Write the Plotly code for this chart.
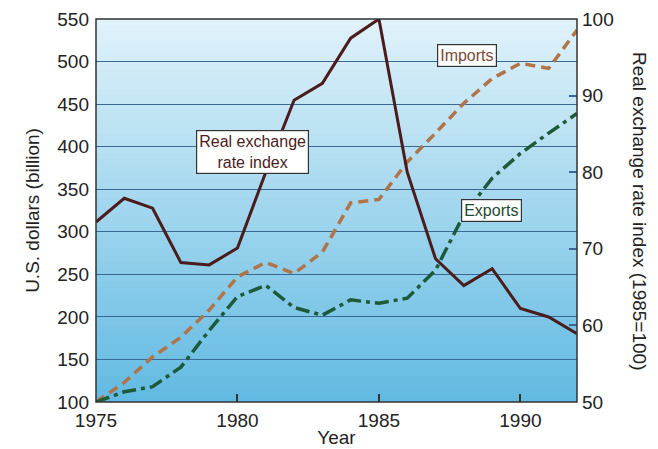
import plotly.graph_objects as go

years = list(range(1975, 1993))
exchange_rate_index = [73.5, 76.6, 75.3, 68.2, 67.9, 70.1, 80.0, 89.4, 91.6, 97.5,
                       100.0, 80.0, 68.7, 65.2, 67.4, 62.2, 61.1, 58.9]
imports = [100, 123, 153, 176, 208, 247, 264, 251, 276, 334,
           338, 382, 416, 451, 480, 498, 492, 537]
exports = [100, 112, 118, 141, 184, 224, 237, 211, 202, 220,
           216, 222, 255, 320, 363, 392, 416, 439]

left_ticks = [100, 150, 200, 250, 300, 350, 400, 450, 500, 550]
right_ticks = [50, 60, 70, 80, 90, 100]
x_ticks = [1975, 1980, 1985, 1990]

FONT = "Liberation Sans, Arial, sans-serif"

fig = go.Figure()
fig.add_trace(go.Scatter(x=years, y=imports, mode="lines", name="Imports",
                         line=dict(color="#b07448", width=3.5, dash="10px,6px")))
fig.add_trace(go.Scatter(x=years, y=exports, mode="lines", name="Exports",
                         line=dict(color="#1d5a38", width=3.5, dash="14px,5px,4px,5px")))
fig.add_trace(go.Scatter(x=years, y=exchange_rate_index, mode="lines", name="Real exchange rate index",
                         yaxis="y2", line=dict(color="#4a1c1c", width=3)))

# background gradient (top light -> bottom deeper blue)
shapes = []
n = 60
top = (224, 242, 250)
bot = (98, 186, 226)
for i in range(n):
    t = i / (n - 1)
    c = tuple(int(round(bot[k] + (top[k] - bot[k]) * t)) for k in range(3))
    shapes.append(dict(type="rect", xref="paper", yref="paper",
                       x0=0, x1=1, y0=i / n, y1=(i + 1) / n + 0.002,
                       fillcolor="rgb(%d,%d,%d)" % c, line=dict(width=0), layer="below"))
shapes.append(dict(type="rect", xref="paper", yref="paper", x0=0, x1=1, y0=0, y1=1,
                   line=dict(color="#333333", width=1.5), layer="above"))

annotations = [
    dict(text="Real exchange<br>rate index", xref="paper", yref="paper", x=0.207, y=0.653,
         showarrow=False, font=dict(family=FONT, size=16, color="#4a1c1c"),
         bgcolor="white", bordercolor="#333333", borderwidth=1.2, borderpad=2),
    dict(text="Imports", xref="paper", yref="paper", x=0.834, y=0.935,
         showarrow=False, font=dict(family=FONT, size=16, color="#7a4a36"),
         bgcolor="white", bordercolor="#333333", borderwidth=1.2, borderpad=2),
    dict(text="Exports", xref="paper", yref="paper", x=0.886, y=0.501,
         showarrow=False, font=dict(family=FONT, size=16, color="#1d4a34"),
         bgcolor="white", bordercolor="#333333", borderwidth=1.2, borderpad=2),
    dict(text="Real exchange rate index (1985=100)", xref="paper", yref="paper",
         x=(652 - 96) / 481, y=0.5, textangle=90, showarrow=False,
         font=dict(family=FONT, size=19, color="#222222")),
]

fig.update_layout(
    width=658, height=449,
    margin=dict(l=96, r=81, t=19, b=47, autoexpand=False),
    paper_bgcolor="white", plot_bgcolor="#a8dcf0",
    showlegend=False,
    font=dict(family=FONT, size=19, color="#222222"),
    shapes=shapes, annotations=annotations,
    xaxis=dict(range=[1975, 1992], tickvals=x_ticks, ticks="inside", ticklen=8,
               tickcolor="#333333", tickwidth=1.5, showgrid=False, zeroline=False,
               ticklabelstandoff=5, automargin=False,
               title=dict(text="Year", standoff=0, font=dict(size=19)),
               tickfont=dict(size=19)),
    yaxis=dict(range=[100, 550], tickvals=left_ticks, showgrid=True,
               gridcolor="#3a6890", gridwidth=1, zeroline=False, ticks="",
               ticklabelstandoff=6, automargin=False,
               title=dict(text="U.S. dollars (billion)", standoff=12, font=dict(size=19)),
               tickfont=dict(size=19)),
    yaxis2=dict(range=[50, 100], tickvals=right_ticks, overlaying="y", side="right",
                showgrid=False, zeroline=False, ticks="inside", ticklen=8,
                tickcolor="#3a6890", tickwidth=1.5, tickfont=dict(size=19),
                ticklabelstandoff=4, automargin=False),
)

fig.write_html("out.html", config={"displayModeBar": False},
               post_script="document.body.style.margin='0';")
